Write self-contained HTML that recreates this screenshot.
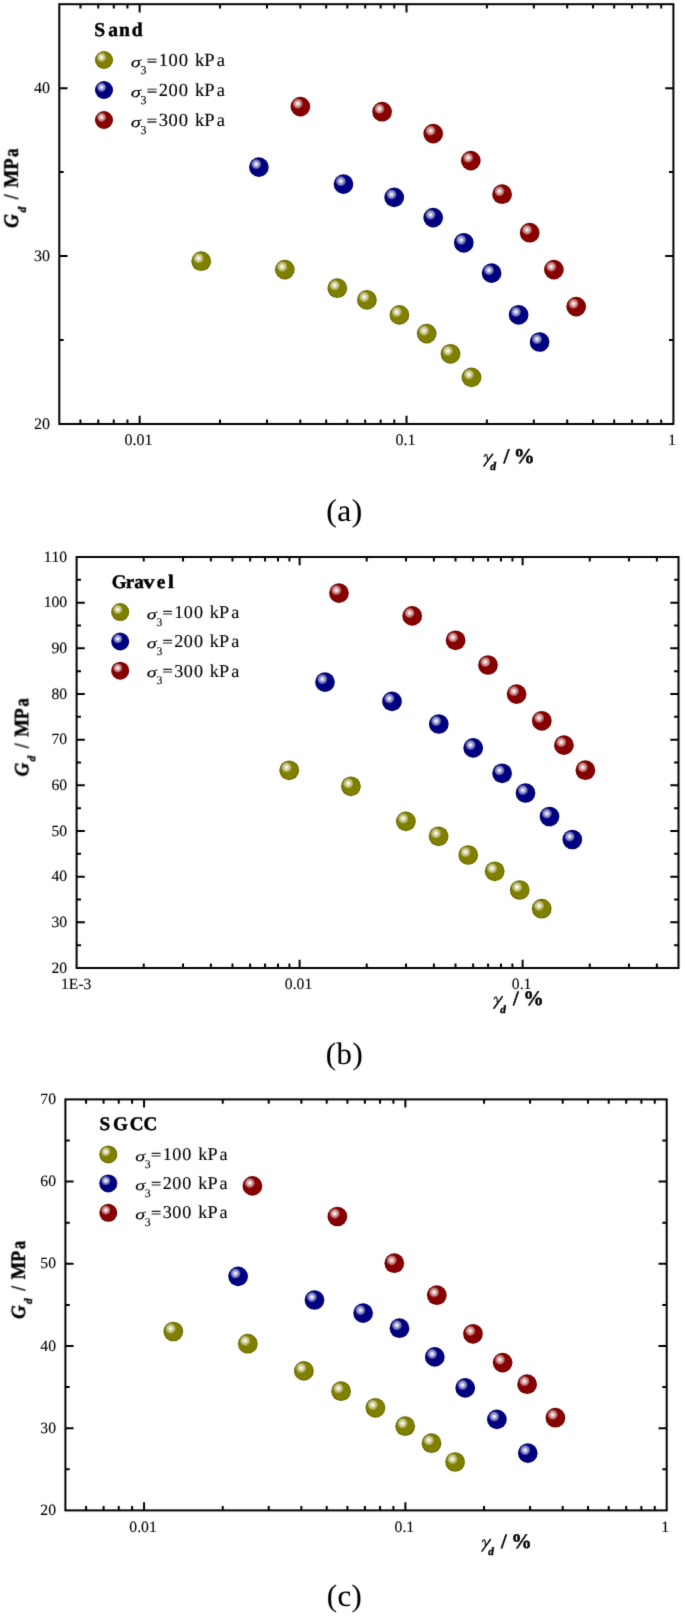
<!DOCTYPE html><html><head><meta charset="utf-8"><title>Gd vs gamma_d</title><style>html,body{margin:0;padding:0;background:#fff;}svg{display:block;text-rendering:geometricPrecision}</style></head><body>
<svg width="685" height="1618" viewBox="0 0 685 1618" font-family='"Liberation Serif", serif'>
<defs>
<filter id="soft" filterUnits="userSpaceOnUse" x="0" y="0" width="685" height="1618" color-interpolation-filters="sRGB"><feConvolveMatrix order="3" kernelMatrix="0.0183 0.1353 0.0183 0.1353 1 0.1353 0.0183 0.1353 0.0183" divisor="1.6146" edgeMode="duplicate" preserveAlpha="false"/></filter>
<radialGradient id="go" cx="0.5" cy="0.5" r="0.5"><stop offset="0" stop-color="#808000"/><stop offset="0.82" stop-color="#808000"/><stop offset="1" stop-color="#5e5e00"/></radialGradient>
<radialGradient id="gb" cx="0.5" cy="0.5" r="0.5"><stop offset="0" stop-color="#000082"/><stop offset="0.82" stop-color="#000082"/><stop offset="1" stop-color="#00005a"/></radialGradient>
<radialGradient id="gr" cx="0.5" cy="0.5" r="0.5"><stop offset="0" stop-color="#880000"/><stop offset="0.82" stop-color="#880000"/><stop offset="1" stop-color="#600000"/></radialGradient>
<radialGradient id="hl" cx="0.5" cy="0.5" r="0.5"><stop offset="0" stop-color="#fff" stop-opacity="1"/><stop offset="0.15" stop-color="#fff" stop-opacity="0.95"/><stop offset="0.4" stop-color="#fff" stop-opacity="0.68"/><stop offset="0.72" stop-color="#fff" stop-opacity="0.45"/><stop offset="0.9" stop-color="#fff" stop-opacity="0.18"/><stop offset="1" stop-color="#fff" stop-opacity="0"/></radialGradient>
</defs>
<rect width="685" height="1618" fill="#fff"/>
<g filter="url(#soft)">
<rect x="59.3" y="4.2" width="614.10" height="419.80" fill="none" stroke="#000" stroke-width="2.0"/>
<path d="M139.64 424.0V415.8M139.64 4.2V12.399999999999999M406.52 424.0V415.8M406.52 4.2V12.399999999999999M80.43 424.0V419.6M80.43 4.2V8.600000000000001M98.30 424.0V419.6M98.30 4.2V8.600000000000001M113.78 424.0V419.6M113.78 4.2V8.600000000000001M127.43 424.0V419.6M127.43 4.2V8.600000000000001M219.98 424.0V419.6M219.98 4.2V8.600000000000001M266.97 424.0V419.6M266.97 4.2V8.600000000000001M300.32 424.0V419.6M300.32 4.2V8.600000000000001M326.18 424.0V419.6M326.18 4.2V8.600000000000001M347.31 424.0V419.6M347.31 4.2V8.600000000000001M365.18 424.0V419.6M365.18 4.2V8.600000000000001M380.66 424.0V419.6M380.66 4.2V8.600000000000001M394.31 424.0V419.6M394.31 4.2V8.600000000000001M486.86 424.0V419.6M486.86 4.2V8.600000000000001M533.85 424.0V419.6M533.85 4.2V8.600000000000001M567.20 424.0V419.6M567.20 4.2V8.600000000000001M593.06 424.0V419.6M593.06 4.2V8.600000000000001M614.19 424.0V419.6M614.19 4.2V8.600000000000001M632.06 424.0V419.6M632.06 4.2V8.600000000000001M647.54 424.0V419.6M647.54 4.2V8.600000000000001M661.19 424.0V419.6M661.19 4.2V8.600000000000001M59.3 256.08H67.5M673.4 256.08H665.1999999999999M59.3 88.16H67.5M673.4 88.16H665.1999999999999M59.3 340.04H63.699999999999996M673.4 340.04H669.0M59.3 172.12H63.699999999999996M673.4 172.12H669.0" stroke="#000" stroke-width="2.0" fill="none"/>
<g fill="#000">
<text x="124.61 132.61 136.61 144.61" y="444.70" font-size="16.0" stroke="#000" stroke-width="0.12">0.01</text>
<text x="395.50 403.50 407.50" y="444.70" font-size="16.0" stroke="#000" stroke-width="0.12">0.1</text>
<text x="667.98" y="444.70" font-size="16.0" stroke="#000" stroke-width="0.12">1</text>
<text x="33.91 41.91" y="428.50" font-size="16.0" stroke="#000" stroke-width="0.12">20</text>
<text x="33.91 41.91" y="260.58" font-size="16.0" stroke="#000" stroke-width="0.12">30</text>
<text x="33.91 41.91" y="92.66" font-size="16.0" stroke="#000" stroke-width="0.12">40</text>
</g>
<circle cx="201.20" cy="261.20" r="9.85" fill="url(#go)"/><circle cx="198.54" cy="258.25" r="5.42" fill="url(#hl)"/>
<circle cx="284.80" cy="269.60" r="9.85" fill="url(#go)"/><circle cx="282.14" cy="266.65" r="5.42" fill="url(#hl)"/>
<circle cx="337.30" cy="288.20" r="9.85" fill="url(#go)"/><circle cx="334.64" cy="285.25" r="5.42" fill="url(#hl)"/>
<circle cx="366.90" cy="299.90" r="9.85" fill="url(#go)"/><circle cx="364.24" cy="296.94" r="5.42" fill="url(#hl)"/>
<circle cx="399.40" cy="314.90" r="9.85" fill="url(#go)"/><circle cx="396.74" cy="311.94" r="5.42" fill="url(#hl)"/>
<circle cx="426.70" cy="333.60" r="9.85" fill="url(#go)"/><circle cx="424.04" cy="330.65" r="5.42" fill="url(#hl)"/>
<circle cx="450.50" cy="353.80" r="9.85" fill="url(#go)"/><circle cx="447.84" cy="350.85" r="5.42" fill="url(#hl)"/>
<circle cx="471.50" cy="377.40" r="9.85" fill="url(#go)"/><circle cx="468.84" cy="374.44" r="5.42" fill="url(#hl)"/>
<circle cx="258.90" cy="167.10" r="9.85" fill="url(#gb)"/><circle cx="256.24" cy="164.14" r="5.42" fill="url(#hl)"/>
<circle cx="343.50" cy="184.10" r="9.85" fill="url(#gb)"/><circle cx="340.84" cy="181.14" r="5.42" fill="url(#hl)"/>
<circle cx="394.20" cy="197.40" r="9.85" fill="url(#gb)"/><circle cx="391.54" cy="194.44" r="5.42" fill="url(#hl)"/>
<circle cx="433.20" cy="217.60" r="9.85" fill="url(#gb)"/><circle cx="430.54" cy="214.64" r="5.42" fill="url(#hl)"/>
<circle cx="463.80" cy="242.80" r="9.85" fill="url(#gb)"/><circle cx="461.14" cy="239.84" r="5.42" fill="url(#hl)"/>
<circle cx="491.60" cy="273.10" r="9.85" fill="url(#gb)"/><circle cx="488.94" cy="270.15" r="5.42" fill="url(#hl)"/>
<circle cx="518.60" cy="314.80" r="9.85" fill="url(#gb)"/><circle cx="515.94" cy="311.85" r="5.42" fill="url(#hl)"/>
<circle cx="539.60" cy="342.00" r="9.85" fill="url(#gb)"/><circle cx="536.94" cy="339.05" r="5.42" fill="url(#hl)"/>
<circle cx="300.40" cy="106.60" r="9.85" fill="url(#gr)"/><circle cx="297.74" cy="103.64" r="5.42" fill="url(#hl)"/>
<circle cx="382.10" cy="111.70" r="9.85" fill="url(#gr)"/><circle cx="379.44" cy="108.75" r="5.42" fill="url(#hl)"/>
<circle cx="433.20" cy="133.60" r="9.85" fill="url(#gr)"/><circle cx="430.54" cy="130.64" r="5.42" fill="url(#hl)"/>
<circle cx="470.80" cy="160.60" r="9.85" fill="url(#gr)"/><circle cx="468.14" cy="157.64" r="5.42" fill="url(#hl)"/>
<circle cx="502.10" cy="194.20" r="9.85" fill="url(#gr)"/><circle cx="499.44" cy="191.24" r="5.42" fill="url(#hl)"/>
<circle cx="529.70" cy="232.70" r="9.85" fill="url(#gr)"/><circle cx="527.04" cy="229.74" r="5.42" fill="url(#hl)"/>
<circle cx="553.90" cy="269.60" r="9.85" fill="url(#gr)"/><circle cx="551.24" cy="266.65" r="5.42" fill="url(#hl)"/>
<circle cx="576.20" cy="306.60" r="9.85" fill="url(#gr)"/><circle cx="573.54" cy="303.65" r="5.42" fill="url(#hl)"/>
<text x="94.26 108.27 118.88 131.71" y="36.10" font-size="19.5" font-weight="bold" stroke="#000" stroke-width="0.45">Sand</text>
<circle cx="104.00" cy="60.00" r="9.0" fill="url(#go)"/><circle cx="101.57" cy="57.30" r="4.95" fill="url(#hl)"/>
<g transform="translate(131.30,66.30) scale(1.0)"><g transform="translate(0,0.8) scale(1.37,1)"><text x="-0.45" y="0.00" font-size="15" font-style="italic" stroke="#000" stroke-width="0.12">σ</text></g><text x="9.23" y="8.10" font-size="12" stroke="#000" stroke-width="0.12">3</text><g transform="translate(0,-5.55) scale(1,0.72)"><text x="15.48" y="6.14" font-size="18.5" stroke="#000" stroke-width="0.45">=</text></g><text x="27.40 37.20 47.50" y="0.00" font-size="18.5" stroke="#000" stroke-width="0.12">100</text><text x="63.65 73.07 85.45" y="0.00" font-size="18.5" stroke="#000" stroke-width="0.12">kPa</text></g>
<circle cx="104.00" cy="90.00" r="9.0" fill="url(#gb)"/><circle cx="101.57" cy="87.30" r="4.95" fill="url(#hl)"/>
<g transform="translate(131.30,96.30) scale(1.0)"><g transform="translate(0,0.8) scale(1.37,1)"><text x="-0.45" y="0.00" font-size="15" font-style="italic" stroke="#000" stroke-width="0.12">σ</text></g><text x="9.23" y="8.10" font-size="12" stroke="#000" stroke-width="0.12">3</text><g transform="translate(0,-5.55) scale(1,0.72)"><text x="15.48" y="6.14" font-size="18.5" stroke="#000" stroke-width="0.45">=</text></g><text x="27.40 37.20 47.50" y="0.00" font-size="18.5" stroke="#000" stroke-width="0.12">200</text><text x="63.65 73.07 85.45" y="0.00" font-size="18.5" stroke="#000" stroke-width="0.12">kPa</text></g>
<circle cx="104.00" cy="120.00" r="9.0" fill="url(#gr)"/><circle cx="101.57" cy="117.30" r="4.95" fill="url(#hl)"/>
<g transform="translate(131.30,126.30) scale(1.0)"><g transform="translate(0,0.8) scale(1.37,1)"><text x="-0.45" y="0.00" font-size="15" font-style="italic" stroke="#000" stroke-width="0.12">σ</text></g><text x="9.23" y="8.10" font-size="12" stroke="#000" stroke-width="0.12">3</text><g transform="translate(0,-5.55) scale(1,0.72)"><text x="15.48" y="6.14" font-size="18.5" stroke="#000" stroke-width="0.45">=</text></g><text x="27.40 37.20 47.50" y="0.00" font-size="18.5" stroke="#000" stroke-width="0.12">300</text><text x="63.65 73.07 85.45" y="0.00" font-size="18.5" stroke="#000" stroke-width="0.12">kPa</text></g>
<g transform="translate(17.80,227.20) rotate(-90) scale(1.0)"><text transform="translate(0.00,0.00) scale(0.94,1)" x="-0.70" y="0" font-size="20.5" font-weight="bold" font-style="italic" stroke="#000" stroke-width="0.45">G</text><text transform="translate(14.80,7.90) scale(1.0,1)" x="-0.13" y="0" font-size="11.3" font-weight="bold" font-style="italic" stroke="#000" stroke-width="0.45">d</text><text transform="translate(27.90,0.00) scale(0.82,1)" x="0.20" y="0" font-size="20.5" font-weight="bold" stroke="#000" stroke-width="0.45">/</text><text transform="translate(39.90,0.00) scale(0.93,1)" x="-0.35" y="0" font-size="20.5" font-weight="bold" stroke="#000" stroke-width="0.45">M</text><text transform="translate(57.70,0.00) scale(0.9,1)" x="-0.35" y="0" font-size="20.5" font-weight="bold" stroke="#000" stroke-width="0.45">P</text><text transform="translate(70.90,0.00) scale(0.82,1)" x="-0.66" y="0" font-size="20.5" font-weight="bold" stroke="#000" stroke-width="0.45">a</text></g>
<g transform="translate(483.60,462.50) scale(1.0)"><path d="M0.55,-5.9 C0.9,-7.7 2.5,-8.6 3.1,-7.5 C3.6,-6.6 3.8,-4.6 3.7,-2.9" stroke="#000" stroke-width="1.15" fill="none" stroke-linecap="round"/><path d="M8.9,-8.3 C6.5,-5.0 3.0,-0.2 0.35,3.5" stroke="#000" stroke-width="1.55" fill="none" stroke-linecap="round"/><text transform="translate(6.80,7.90) scale(1.0,1)" x="-0.14" y="0" font-size="11.6" font-weight="bold" font-style="italic" stroke="#000" stroke-width="0.45">d</text><text transform="translate(19.60,0.00) scale(1.0,1)" x="0.21" y="0" font-size="21" font-weight="bold" stroke="#000" stroke-width="0.45">/</text><text transform="translate(32.40,0.00) scale(1.0,1)" x="-2.15" y="0" font-size="21" font-weight="bold" stroke="#000" stroke-width="0.45">%</text></g>
<text x="326.22 337.21 351.69" y="521.00" font-size="31.5" stroke="#000" stroke-width="0.12">(a)</text>
<rect x="76.6" y="557.0" width="601.90" height="411.00" fill="none" stroke="#000" stroke-width="2.0"/>
<path d="M299.61 968.0V959.8M299.61 557.0V565.2M522.62 968.0V959.8M522.62 557.0V565.2M143.73 968.0V963.6M143.73 557.0V561.4M183.00 968.0V963.6M183.00 557.0V561.4M210.87 968.0V963.6M210.87 557.0V561.4M232.48 968.0V963.6M232.48 557.0V561.4M250.14 968.0V963.6M250.14 557.0V561.4M265.07 968.0V963.6M265.07 557.0V561.4M278.00 968.0V963.6M278.00 557.0V561.4M289.41 968.0V963.6M289.41 557.0V561.4M366.74 968.0V963.6M366.74 557.0V561.4M406.01 968.0V963.6M406.01 557.0V561.4M433.88 968.0V963.6M433.88 557.0V561.4M455.49 968.0V963.6M455.49 557.0V561.4M473.15 968.0V963.6M473.15 557.0V561.4M488.08 968.0V963.6M488.08 557.0V561.4M501.01 968.0V963.6M501.01 557.0V561.4M512.42 968.0V963.6M512.42 557.0V561.4M589.76 968.0V963.6M589.76 557.0V561.4M629.03 968.0V963.6M629.03 557.0V561.4M656.89 968.0V963.6M656.89 557.0V561.4M76.6 922.33H84.8M678.5 922.33H670.3M76.6 876.67H84.8M678.5 876.67H670.3M76.6 831.00H84.8M678.5 831.00H670.3M76.6 785.33H84.8M678.5 785.33H670.3M76.6 739.67H84.8M678.5 739.67H670.3M76.6 694.00H84.8M678.5 694.00H670.3M76.6 648.33H84.8M678.5 648.33H670.3M76.6 602.67H84.8M678.5 602.67H670.3M76.6 945.17H81.0M678.5 945.17H674.1M76.6 899.50H81.0M678.5 899.50H674.1M76.6 853.83H81.0M678.5 853.83H674.1M76.6 808.17H81.0M678.5 808.17H674.1M76.6 762.50H81.0M678.5 762.50H674.1M76.6 716.83H81.0M678.5 716.83H674.1M76.6 671.17H81.0M678.5 671.17H674.1M76.6 625.50H81.0M678.5 625.50H674.1M76.6 579.83H81.0M678.5 579.83H674.1" stroke="#000" stroke-width="2.0" fill="none"/>
<g fill="#000">
<text x="60.98 68.82 78.40 83.62" y="989.20" font-size="15.68" stroke="#000" stroke-width="0.12">1E-3</text>
<text x="284.86 292.70 296.62 304.46" y="989.20" font-size="15.68" stroke="#000" stroke-width="0.12">0.01</text>
<text x="511.79 519.63 523.55" y="989.20" font-size="15.68" stroke="#000" stroke-width="0.12">0.1</text>
<text x="51.52 59.36" y="972.50" font-size="15.68" stroke="#000" stroke-width="0.12">20</text>
<text x="51.52 59.36" y="926.83" font-size="15.68" stroke="#000" stroke-width="0.12">30</text>
<text x="51.52 59.36" y="881.17" font-size="15.68" stroke="#000" stroke-width="0.12">40</text>
<text x="51.52 59.36" y="835.50" font-size="15.68" stroke="#000" stroke-width="0.12">50</text>
<text x="51.52 59.36" y="789.83" font-size="15.68" stroke="#000" stroke-width="0.12">60</text>
<text x="51.52 59.36" y="744.17" font-size="15.68" stroke="#000" stroke-width="0.12">70</text>
<text x="51.52 59.36" y="698.50" font-size="15.68" stroke="#000" stroke-width="0.12">80</text>
<text x="51.52 59.36" y="652.83" font-size="15.68" stroke="#000" stroke-width="0.12">90</text>
<text x="43.68 51.52 59.36" y="607.17" font-size="15.68" stroke="#000" stroke-width="0.12">100</text>
<text x="43.68 51.52 59.36" y="561.50" font-size="15.68" stroke="#000" stroke-width="0.12">110</text>
</g>
<circle cx="289.20" cy="770.30" r="9.85" fill="url(#go)"/><circle cx="286.54" cy="767.34" r="5.42" fill="url(#hl)"/>
<circle cx="350.90" cy="786.30" r="9.85" fill="url(#go)"/><circle cx="348.24" cy="783.34" r="5.42" fill="url(#hl)"/>
<circle cx="405.90" cy="821.40" r="9.85" fill="url(#go)"/><circle cx="403.24" cy="818.44" r="5.42" fill="url(#hl)"/>
<circle cx="438.60" cy="836.30" r="9.85" fill="url(#go)"/><circle cx="435.94" cy="833.34" r="5.42" fill="url(#hl)"/>
<circle cx="468.20" cy="855.00" r="9.85" fill="url(#go)"/><circle cx="465.54" cy="852.04" r="5.42" fill="url(#hl)"/>
<circle cx="494.70" cy="871.30" r="9.85" fill="url(#go)"/><circle cx="492.04" cy="868.34" r="5.42" fill="url(#hl)"/>
<circle cx="519.70" cy="890.00" r="9.85" fill="url(#go)"/><circle cx="517.04" cy="887.04" r="5.42" fill="url(#hl)"/>
<circle cx="541.70" cy="908.70" r="9.85" fill="url(#go)"/><circle cx="539.04" cy="905.75" r="5.42" fill="url(#hl)"/>
<circle cx="325.00" cy="682.10" r="9.85" fill="url(#gb)"/><circle cx="322.34" cy="679.14" r="5.42" fill="url(#hl)"/>
<circle cx="392.00" cy="701.40" r="9.85" fill="url(#gb)"/><circle cx="389.34" cy="698.44" r="5.42" fill="url(#hl)"/>
<circle cx="438.80" cy="724.00" r="9.85" fill="url(#gb)"/><circle cx="436.14" cy="721.04" r="5.42" fill="url(#hl)"/>
<circle cx="473.20" cy="747.90" r="9.85" fill="url(#gb)"/><circle cx="470.54" cy="744.94" r="5.42" fill="url(#hl)"/>
<circle cx="502.10" cy="773.30" r="9.85" fill="url(#gb)"/><circle cx="499.44" cy="770.34" r="5.42" fill="url(#hl)"/>
<circle cx="525.50" cy="793.00" r="9.85" fill="url(#gb)"/><circle cx="522.84" cy="790.04" r="5.42" fill="url(#hl)"/>
<circle cx="549.50" cy="816.50" r="9.85" fill="url(#gb)"/><circle cx="546.84" cy="813.54" r="5.42" fill="url(#hl)"/>
<circle cx="572.30" cy="839.50" r="9.85" fill="url(#gb)"/><circle cx="569.64" cy="836.54" r="5.42" fill="url(#hl)"/>
<circle cx="339.00" cy="593.10" r="9.85" fill="url(#gr)"/><circle cx="336.34" cy="590.14" r="5.42" fill="url(#hl)"/>
<circle cx="412.20" cy="615.90" r="9.85" fill="url(#gr)"/><circle cx="409.54" cy="612.94" r="5.42" fill="url(#hl)"/>
<circle cx="455.60" cy="640.30" r="9.85" fill="url(#gr)"/><circle cx="452.94" cy="637.34" r="5.42" fill="url(#hl)"/>
<circle cx="488.00" cy="665.00" r="9.85" fill="url(#gr)"/><circle cx="485.34" cy="662.04" r="5.42" fill="url(#hl)"/>
<circle cx="516.60" cy="694.10" r="9.85" fill="url(#gr)"/><circle cx="513.94" cy="691.14" r="5.42" fill="url(#hl)"/>
<circle cx="541.80" cy="720.80" r="9.85" fill="url(#gr)"/><circle cx="539.14" cy="717.84" r="5.42" fill="url(#hl)"/>
<circle cx="563.90" cy="745.10" r="9.85" fill="url(#gr)"/><circle cx="561.24" cy="742.14" r="5.42" fill="url(#hl)"/>
<circle cx="585.40" cy="770.20" r="9.85" fill="url(#gr)"/><circle cx="582.74" cy="767.25" r="5.42" fill="url(#hl)"/>
<text transform="translate(112.60,587.90) scale(1.0,1)" x="-0.93" y="0" font-size="19.11" font-weight="bold" stroke="#000" stroke-width="0.45">G</text><text transform="translate(126.30,587.90) scale(1.0,1)" x="-0.51" y="0" font-size="19.11" font-weight="bold" stroke="#000" stroke-width="0.45">r</text><text transform="translate(134.80,587.90) scale(1.0,1)" x="-0.62" y="0" font-size="19.11" font-weight="bold" stroke="#000" stroke-width="0.45">a</text><text transform="translate(143.20,587.90) scale(1.2,1)" x="-0.00" y="0" font-size="19.11" font-weight="bold" stroke="#000" stroke-width="0.45">v</text><text transform="translate(157.30,587.90) scale(1.0,1)" x="-0.65" y="0" font-size="19.11" font-weight="bold" stroke="#000" stroke-width="0.45">e</text><text transform="translate(168.40,587.90) scale(1.1,1)" x="-0.37" y="0" font-size="19.11" font-weight="bold" stroke="#000" stroke-width="0.45">l</text>
<circle cx="120.20" cy="612.10" r="9.0" fill="url(#go)"/><circle cx="117.77" cy="609.40" r="4.95" fill="url(#hl)"/>
<g transform="translate(147.40,617.90) scale(0.98)"><g transform="translate(0,0.8) scale(1.37,1)"><text x="-0.45" y="0.00" font-size="15" font-style="italic" stroke="#000" stroke-width="0.12">σ</text></g><text x="9.23" y="8.10" font-size="12" stroke="#000" stroke-width="0.12">3</text><g transform="translate(0,-5.55) scale(1,0.72)"><text x="15.48" y="6.14" font-size="18.5" stroke="#000" stroke-width="0.45">=</text></g><text x="27.40 37.20 47.50" y="0.00" font-size="18.5" stroke="#000" stroke-width="0.12">100</text><text x="63.65 73.07 85.45" y="0.00" font-size="18.5" stroke="#000" stroke-width="0.12">kPa</text></g>
<circle cx="120.20" cy="641.50" r="9.0" fill="url(#gb)"/><circle cx="117.77" cy="638.80" r="4.95" fill="url(#hl)"/>
<g transform="translate(147.40,647.30) scale(0.98)"><g transform="translate(0,0.8) scale(1.37,1)"><text x="-0.45" y="0.00" font-size="15" font-style="italic" stroke="#000" stroke-width="0.12">σ</text></g><text x="9.23" y="8.10" font-size="12" stroke="#000" stroke-width="0.12">3</text><g transform="translate(0,-5.55) scale(1,0.72)"><text x="15.48" y="6.14" font-size="18.5" stroke="#000" stroke-width="0.45">=</text></g><text x="27.40 37.20 47.50" y="0.00" font-size="18.5" stroke="#000" stroke-width="0.12">200</text><text x="63.65 73.07 85.45" y="0.00" font-size="18.5" stroke="#000" stroke-width="0.12">kPa</text></g>
<circle cx="120.20" cy="670.70" r="9.0" fill="url(#gr)"/><circle cx="117.77" cy="668.00" r="4.95" fill="url(#hl)"/>
<g transform="translate(147.40,676.50) scale(0.98)"><g transform="translate(0,0.8) scale(1.37,1)"><text x="-0.45" y="0.00" font-size="15" font-style="italic" stroke="#000" stroke-width="0.12">σ</text></g><text x="9.23" y="8.10" font-size="12" stroke="#000" stroke-width="0.12">3</text><g transform="translate(0,-5.55) scale(1,0.72)"><text x="15.48" y="6.14" font-size="18.5" stroke="#000" stroke-width="0.45">=</text></g><text x="27.40 37.20 47.50" y="0.00" font-size="18.5" stroke="#000" stroke-width="0.12">300</text><text x="63.65 73.07 85.45" y="0.00" font-size="18.5" stroke="#000" stroke-width="0.12">kPa</text></g>
<g transform="translate(27.90,775.60) rotate(-90) scale(0.98)"><text transform="translate(0.00,0.00) scale(0.94,1)" x="-0.70" y="0" font-size="20.5" font-weight="bold" font-style="italic" stroke="#000" stroke-width="0.45">G</text><text transform="translate(14.80,7.90) scale(1.0,1)" x="-0.13" y="0" font-size="11.3" font-weight="bold" font-style="italic" stroke="#000" stroke-width="0.45">d</text><text transform="translate(27.90,0.00) scale(0.82,1)" x="0.20" y="0" font-size="20.5" font-weight="bold" stroke="#000" stroke-width="0.45">/</text><text transform="translate(39.90,0.00) scale(0.93,1)" x="-0.35" y="0" font-size="20.5" font-weight="bold" stroke="#000" stroke-width="0.45">M</text><text transform="translate(57.70,0.00) scale(0.9,1)" x="-0.35" y="0" font-size="20.5" font-weight="bold" stroke="#000" stroke-width="0.45">P</text><text transform="translate(70.90,0.00) scale(0.82,1)" x="-0.66" y="0" font-size="20.5" font-weight="bold" stroke="#000" stroke-width="0.45">a</text></g>
<g transform="translate(493.60,1004.80) scale(0.98)"><path d="M0.55,-5.9 C0.9,-7.7 2.5,-8.6 3.1,-7.5 C3.6,-6.6 3.8,-4.6 3.7,-2.9" stroke="#000" stroke-width="1.15" fill="none" stroke-linecap="round"/><path d="M8.9,-8.3 C6.5,-5.0 3.0,-0.2 0.35,3.5" stroke="#000" stroke-width="1.55" fill="none" stroke-linecap="round"/><text transform="translate(6.80,7.90) scale(1.0,1)" x="-0.14" y="0" font-size="11.6" font-weight="bold" font-style="italic" stroke="#000" stroke-width="0.45">d</text><text transform="translate(19.60,0.00) scale(1.0,1)" x="0.21" y="0" font-size="21" font-weight="bold" stroke="#000" stroke-width="0.45">/</text><text transform="translate(32.40,0.00) scale(1.0,1)" x="-2.15" y="0" font-size="21" font-weight="bold" stroke="#000" stroke-width="0.45">%</text></g>
<text x="325.74 336.52 352.46" y="1063.50" font-size="30.87" stroke="#000" stroke-width="0.12">(b)</text>
<rect x="65.4" y="1099.4" width="601.30" height="411.00" fill="none" stroke="#000" stroke-width="2.0"/>
<path d="M144.06 1510.4V1502.2M144.06 1099.4V1107.6000000000001M405.38 1510.4V1502.2M405.38 1099.4V1107.6000000000001M86.09 1510.4V1506.0M86.09 1099.4V1103.8000000000002M103.59 1510.4V1506.0M103.59 1099.4V1103.8000000000002M118.74 1510.4V1506.0M118.74 1099.4V1103.8000000000002M132.11 1510.4V1506.0M132.11 1099.4V1103.8000000000002M222.73 1510.4V1506.0M222.73 1099.4V1103.8000000000002M268.74 1510.4V1506.0M268.74 1099.4V1103.8000000000002M301.39 1510.4V1506.0M301.39 1099.4V1103.8000000000002M326.72 1510.4V1506.0M326.72 1099.4V1103.8000000000002M347.41 1510.4V1506.0M347.41 1099.4V1103.8000000000002M364.90 1510.4V1506.0M364.90 1099.4V1103.8000000000002M380.06 1510.4V1506.0M380.06 1099.4V1103.8000000000002M393.42 1510.4V1506.0M393.42 1099.4V1103.8000000000002M484.05 1510.4V1506.0M484.05 1099.4V1103.8000000000002M530.06 1510.4V1506.0M530.06 1099.4V1103.8000000000002M562.71 1510.4V1506.0M562.71 1099.4V1103.8000000000002M588.04 1510.4V1506.0M588.04 1099.4V1103.8000000000002M608.73 1510.4V1506.0M608.73 1099.4V1103.8000000000002M626.22 1510.4V1506.0M626.22 1099.4V1103.8000000000002M641.38 1510.4V1506.0M641.38 1099.4V1103.8000000000002M654.74 1510.4V1506.0M654.74 1099.4V1103.8000000000002M65.4 1428.20H73.60000000000001M666.7 1428.20H658.5M65.4 1346.00H73.60000000000001M666.7 1346.00H658.5M65.4 1263.80H73.60000000000001M666.7 1263.80H658.5M65.4 1181.60H73.60000000000001M666.7 1181.60H658.5M65.4 1469.30H69.80000000000001M666.7 1469.30H662.3000000000001M65.4 1387.10H69.80000000000001M666.7 1387.10H662.3000000000001M65.4 1304.90H69.80000000000001M666.7 1304.90H662.3000000000001M65.4 1222.70H69.80000000000001M666.7 1222.70H662.3000000000001M65.4 1140.50H69.80000000000001M666.7 1140.50H662.3000000000001" stroke="#000" stroke-width="2.0" fill="none"/>
<g fill="#000">
<text x="129.32 137.16 141.08 148.92" y="1531.60" font-size="15.68" stroke="#000" stroke-width="0.12">0.01</text>
<text x="394.55 402.39 406.31" y="1531.60" font-size="15.68" stroke="#000" stroke-width="0.12">0.1</text>
<text x="661.36" y="1531.60" font-size="15.68" stroke="#000" stroke-width="0.12">1</text>
<text x="40.32 48.16" y="1514.90" font-size="15.68" stroke="#000" stroke-width="0.12">20</text>
<text x="40.32 48.16" y="1432.70" font-size="15.68" stroke="#000" stroke-width="0.12">30</text>
<text x="40.32 48.16" y="1350.50" font-size="15.68" stroke="#000" stroke-width="0.12">40</text>
<text x="40.32 48.16" y="1268.30" font-size="15.68" stroke="#000" stroke-width="0.12">50</text>
<text x="40.32 48.16" y="1186.10" font-size="15.68" stroke="#000" stroke-width="0.12">60</text>
<text x="40.32 48.16" y="1103.90" font-size="15.68" stroke="#000" stroke-width="0.12">70</text>
</g>
<circle cx="173.30" cy="1331.50" r="9.85" fill="url(#go)"/><circle cx="170.64" cy="1328.55" r="5.42" fill="url(#hl)"/>
<circle cx="247.80" cy="1343.70" r="9.85" fill="url(#go)"/><circle cx="245.14" cy="1340.75" r="5.42" fill="url(#hl)"/>
<circle cx="303.90" cy="1370.90" r="9.85" fill="url(#go)"/><circle cx="301.24" cy="1367.95" r="5.42" fill="url(#hl)"/>
<circle cx="341.10" cy="1391.20" r="9.85" fill="url(#go)"/><circle cx="338.44" cy="1388.25" r="5.42" fill="url(#hl)"/>
<circle cx="375.40" cy="1407.80" r="9.85" fill="url(#go)"/><circle cx="372.74" cy="1404.85" r="5.42" fill="url(#hl)"/>
<circle cx="405.20" cy="1426.20" r="9.85" fill="url(#go)"/><circle cx="402.54" cy="1423.25" r="5.42" fill="url(#hl)"/>
<circle cx="431.50" cy="1443.20" r="9.85" fill="url(#go)"/><circle cx="428.84" cy="1440.25" r="5.42" fill="url(#hl)"/>
<circle cx="455.10" cy="1462.00" r="9.85" fill="url(#go)"/><circle cx="452.44" cy="1459.05" r="5.42" fill="url(#hl)"/>
<circle cx="238.10" cy="1276.40" r="9.85" fill="url(#gb)"/><circle cx="235.44" cy="1273.45" r="5.42" fill="url(#hl)"/>
<circle cx="314.50" cy="1300.00" r="9.85" fill="url(#gb)"/><circle cx="311.84" cy="1297.05" r="5.42" fill="url(#hl)"/>
<circle cx="363.10" cy="1313.10" r="9.85" fill="url(#gb)"/><circle cx="360.44" cy="1310.14" r="5.42" fill="url(#hl)"/>
<circle cx="399.50" cy="1328.20" r="9.85" fill="url(#gb)"/><circle cx="396.84" cy="1325.25" r="5.42" fill="url(#hl)"/>
<circle cx="434.80" cy="1356.90" r="9.85" fill="url(#gb)"/><circle cx="432.14" cy="1353.95" r="5.42" fill="url(#hl)"/>
<circle cx="465.20" cy="1387.90" r="9.85" fill="url(#gb)"/><circle cx="462.54" cy="1384.95" r="5.42" fill="url(#hl)"/>
<circle cx="496.90" cy="1419.40" r="9.85" fill="url(#gb)"/><circle cx="494.24" cy="1416.45" r="5.42" fill="url(#hl)"/>
<circle cx="527.80" cy="1453.10" r="9.85" fill="url(#gb)"/><circle cx="525.14" cy="1450.14" r="5.42" fill="url(#hl)"/>
<circle cx="252.40" cy="1185.90" r="9.85" fill="url(#gr)"/><circle cx="249.74" cy="1182.95" r="5.42" fill="url(#hl)"/>
<circle cx="337.40" cy="1216.50" r="9.85" fill="url(#gr)"/><circle cx="334.74" cy="1213.55" r="5.42" fill="url(#hl)"/>
<circle cx="394.30" cy="1263.20" r="9.85" fill="url(#gr)"/><circle cx="391.64" cy="1260.25" r="5.42" fill="url(#hl)"/>
<circle cx="436.80" cy="1295.20" r="9.85" fill="url(#gr)"/><circle cx="434.14" cy="1292.25" r="5.42" fill="url(#hl)"/>
<circle cx="473.00" cy="1333.80" r="9.85" fill="url(#gr)"/><circle cx="470.34" cy="1330.85" r="5.42" fill="url(#hl)"/>
<circle cx="502.60" cy="1362.60" r="9.85" fill="url(#gr)"/><circle cx="499.94" cy="1359.64" r="5.42" fill="url(#hl)"/>
<circle cx="527.10" cy="1384.20" r="9.85" fill="url(#gr)"/><circle cx="524.44" cy="1381.25" r="5.42" fill="url(#hl)"/>
<circle cx="555.40" cy="1417.70" r="9.85" fill="url(#gr)"/><circle cx="552.74" cy="1414.75" r="5.42" fill="url(#hl)"/>
<text x="99.58 112.97 129.87 143.57" y="1130.30" font-size="19.11" font-weight="bold" stroke="#000" stroke-width="0.45">SGCC</text>
<circle cx="108.30" cy="1154.40" r="9.0" fill="url(#go)"/><circle cx="105.87" cy="1151.70" r="4.95" fill="url(#hl)"/>
<g transform="translate(135.80,1160.00) scale(0.98)"><g transform="translate(0,0.8) scale(1.37,1)"><text x="-0.45" y="0.00" font-size="15" font-style="italic" stroke="#000" stroke-width="0.12">σ</text></g><text x="9.23" y="8.10" font-size="12" stroke="#000" stroke-width="0.12">3</text><g transform="translate(0,-5.55) scale(1,0.72)"><text x="15.48" y="6.14" font-size="18.5" stroke="#000" stroke-width="0.45">=</text></g><text x="27.40 37.20 47.50" y="0.00" font-size="18.5" stroke="#000" stroke-width="0.12">100</text><text x="63.65 73.07 85.45" y="0.00" font-size="18.5" stroke="#000" stroke-width="0.12">kPa</text></g>
<circle cx="108.30" cy="1183.40" r="9.0" fill="url(#gb)"/><circle cx="105.87" cy="1180.70" r="4.95" fill="url(#hl)"/>
<g transform="translate(135.80,1189.00) scale(0.98)"><g transform="translate(0,0.8) scale(1.37,1)"><text x="-0.45" y="0.00" font-size="15" font-style="italic" stroke="#000" stroke-width="0.12">σ</text></g><text x="9.23" y="8.10" font-size="12" stroke="#000" stroke-width="0.12">3</text><g transform="translate(0,-5.55) scale(1,0.72)"><text x="15.48" y="6.14" font-size="18.5" stroke="#000" stroke-width="0.45">=</text></g><text x="27.40 37.20 47.50" y="0.00" font-size="18.5" stroke="#000" stroke-width="0.12">200</text><text x="63.65 73.07 85.45" y="0.00" font-size="18.5" stroke="#000" stroke-width="0.12">kPa</text></g>
<circle cx="108.30" cy="1212.80" r="9.0" fill="url(#gr)"/><circle cx="105.87" cy="1210.10" r="4.95" fill="url(#hl)"/>
<g transform="translate(135.80,1218.40) scale(0.98)"><g transform="translate(0,0.8) scale(1.37,1)"><text x="-0.45" y="0.00" font-size="15" font-style="italic" stroke="#000" stroke-width="0.12">σ</text></g><text x="9.23" y="8.10" font-size="12" stroke="#000" stroke-width="0.12">3</text><g transform="translate(0,-5.55) scale(1,0.72)"><text x="15.48" y="6.14" font-size="18.5" stroke="#000" stroke-width="0.45">=</text></g><text x="27.40 37.20 47.50" y="0.00" font-size="18.5" stroke="#000" stroke-width="0.12">300</text><text x="63.65 73.07 85.45" y="0.00" font-size="18.5" stroke="#000" stroke-width="0.12">kPa</text></g>
<g transform="translate(24.50,1318.20) rotate(-90) scale(0.98)"><text transform="translate(0.00,0.00) scale(0.94,1)" x="-0.70" y="0" font-size="20.5" font-weight="bold" font-style="italic" stroke="#000" stroke-width="0.45">G</text><text transform="translate(14.80,7.90) scale(1.0,1)" x="-0.13" y="0" font-size="11.3" font-weight="bold" font-style="italic" stroke="#000" stroke-width="0.45">d</text><text transform="translate(27.90,0.00) scale(0.82,1)" x="0.20" y="0" font-size="20.5" font-weight="bold" stroke="#000" stroke-width="0.45">/</text><text transform="translate(39.90,0.00) scale(0.93,1)" x="-0.35" y="0" font-size="20.5" font-weight="bold" stroke="#000" stroke-width="0.45">M</text><text transform="translate(57.70,0.00) scale(0.9,1)" x="-0.35" y="0" font-size="20.5" font-weight="bold" stroke="#000" stroke-width="0.45">P</text><text transform="translate(70.90,0.00) scale(0.82,1)" x="-0.66" y="0" font-size="20.5" font-weight="bold" stroke="#000" stroke-width="0.45">a</text></g>
<g transform="translate(481.70,1547.70) scale(0.98)"><path d="M0.55,-5.9 C0.9,-7.7 2.5,-8.6 3.1,-7.5 C3.6,-6.6 3.8,-4.6 3.7,-2.9" stroke="#000" stroke-width="1.15" fill="none" stroke-linecap="round"/><path d="M8.9,-8.3 C6.5,-5.0 3.0,-0.2 0.35,3.5" stroke="#000" stroke-width="1.55" fill="none" stroke-linecap="round"/><text transform="translate(6.80,7.90) scale(1.0,1)" x="-0.14" y="0" font-size="11.6" font-weight="bold" font-style="italic" stroke="#000" stroke-width="0.45">d</text><text transform="translate(19.60,0.00) scale(1.0,1)" x="0.21" y="0" font-size="21" font-weight="bold" stroke="#000" stroke-width="0.45">/</text><text transform="translate(32.40,0.00) scale(1.0,1)" x="-2.15" y="0" font-size="21" font-weight="bold" stroke="#000" stroke-width="0.45">%</text></g>
<text x="326.64 337.42 351.62" y="1605.70" font-size="30.87" stroke="#000" stroke-width="0.12">(c)</text>
</g></svg></body></html>
